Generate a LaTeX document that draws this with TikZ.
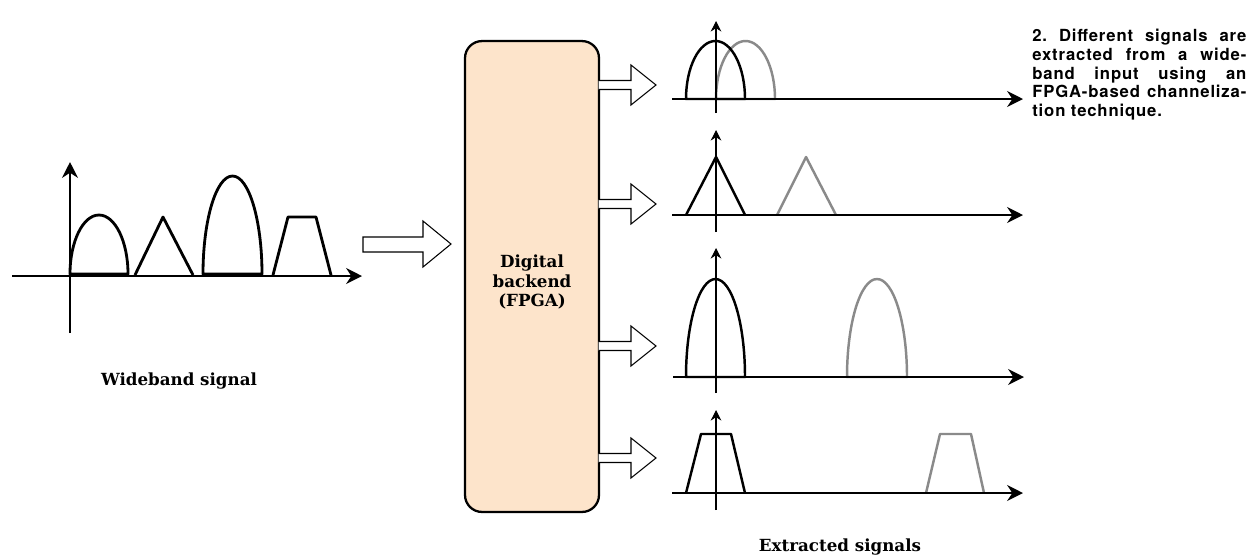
\documentclass[tikz,border=0pt]{standalone}
\usepackage{fontspec}
\setmainfont{DejaVu Serif}
\newfontfamily\notefont[LetterSpace=5]{TeX Gyre Heros}
\usetikzlibrary{arrows.meta}
\definecolor{peach}{RGB}{253,228,203}
\definecolor{ghost}{RGB}{138,138,138}
\tikzset{
  axis/.style={line width=1.6pt,-{Stealth[length=9pt,width=9pt]}},
  thinaxis/.style={line width=0.6pt,-{Stealth[length=6pt,width=6pt]}},
  sig/.style={line width=1.6pt,line join=round},
  psig/.style={line width=1.4pt,line join=round},
  gsig/.style={psig,draw=ghost},
  hollow/.style={draw=black,line width=0.6pt,fill=white},
  fpga/.style={draw=black,line width=1.3pt,fill=peach,rounded corners=0.34cm,
    minimum width=2.68cm,minimum height=9.42cm,inner sep=0pt},
  lbl/.style={font=\bfseries\fontsize{9.5}{11.3}\selectfont,align=center,inner sep=0pt},
  archup/.style={start angle=180,end angle=360},
}
\begin{document}
\begin{tikzpicture}[x=0.02cm,y=-0.02cm]
\useasboundingbox (0,0) rectangle (1260,556);

% ---------- wideband signal ----------
\draw[sig] (70,274) arc[archup,x radius=29,y radius=59] -- cycle;
\draw[sig] (135,275) -- (163,217) -- (193,275);
\draw[sig] (203,274) arc[archup,x radius=29.5,y radius=98] -- cycle;
\draw[sig] (273,275) -- (288,217) -- (316,217) -- (331,275);
\coordinate (wxs) at (12,276); \coordinate (wxe) at (362,276);
\coordinate (wys) at (70,333); \coordinate (wye) at (70,162);
\draw[axis] (wxs) -- (wxe);
\draw[axis] (wys) -- (wye);
\node[lbl] (wlabel) at (179,381) {Wideband signal};

% ---------- input hollow arrow ----------
\draw[hollow] (363,237) -- (423,237) -- (423,221) -- (451,244) -- (423,267) -- (423,252) -- (363,252) -- cycle;

% ---------- FPGA box ----------
\node[fpga] (fpga) at (532,276.5) {};
\node[lbl] (ftext) at (532,282) {Digital\\backend\\(FPGA)};

% ---------- output hollow arrows ----------
\foreach \yy in {85,204,346,458}{
  \draw[hollow] (598.6,\yy-4.5) -- (631,\yy-4.5) -- (631,\yy-20) -- (656,\yy) -- (631,\yy+20) -- (631,\yy+4.5) -- (598.6,\yy+4.5);
}

% ---------- panel 1 ----------
\draw[gsig] (716,99) arc[archup,x radius=29.5,y radius=58] -- cycle;
\draw[psig] (686,99) arc[archup,x radius=29.5,y radius=58] -- cycle;
\coordinate (p1xs) at (672,99); \coordinate (p1xe) at (1023,99);
\coordinate (p1ys) at (716,113); \coordinate (p1ye) at (716,21);
\draw[axis] (p1xs) -- (p1xe);
\draw[thinaxis] (p1ys) -- (p1ye);

% ---------- panel 2 ----------
\draw[psig] (686,215) -- (716,157) -- (745,215);
\draw[gsig] (777,215) -- (806,157) -- (836,215);
\coordinate (p2xs) at (672,215); \coordinate (p2xe) at (1023,215);
\coordinate (p2ys) at (716,232); \coordinate (p2ye) at (716,130);
\draw[axis] (p2xs) -- (p2xe);
\draw[thinaxis] (p2ys) -- (p2ye);

% ---------- panel 3 ----------
\draw[psig] (686,377) arc[archup,x radius=29.5,y radius=98] -- cycle;
\draw[gsig] (847,377) arc[archup,x radius=30,y radius=98] -- cycle;
\coordinate (p3xs) at (673,377); \coordinate (p3xe) at (1024,377);
\coordinate (p3ys) at (716,393); \coordinate (p3ye) at (716,248);
\draw[axis] (p3xs) -- (p3xe);
\draw[thinaxis] (p3ys) -- (p3ye);

% ---------- panel 4 ----------
\draw[psig] (686,493) -- (701,434) -- (731,434) -- (745,493);
\draw[gsig] (926,493) -- (940,434) -- (971,434) -- (984,493);
\coordinate (p4xs) at (672,493); \coordinate (p4xe) at (1023,493);
\coordinate (p4ys) at (716,510); \coordinate (p4ye) at (716,410);
\draw[axis] (p4xs) -- (p4xe);
\draw[thinaxis] (p4ys) -- (p4ye);

\node[lbl] (elabel) at (840,547) {Extracted signals};

% ---------- note ----------
\node[anchor=north west,inner sep=0pt] (note) at (1032,29) {%
  \parbox[t]{4.28cm}{\frenchspacing\notefont\bfseries\fontsize{9.5}{10.6}\selectfont
  \baselineskip=10.6pt
  \makebox[4.28cm][s]{2. Different signals are}\\
  \makebox[4.28cm][s]{extracted from a wide-}\\
  \makebox[4.28cm][s]{band input using an}\\
  \makebox[4.28cm][s]{FPGA-based channeliza-}\\
  tion technique.}};
\end{tikzpicture}
\end{document}
